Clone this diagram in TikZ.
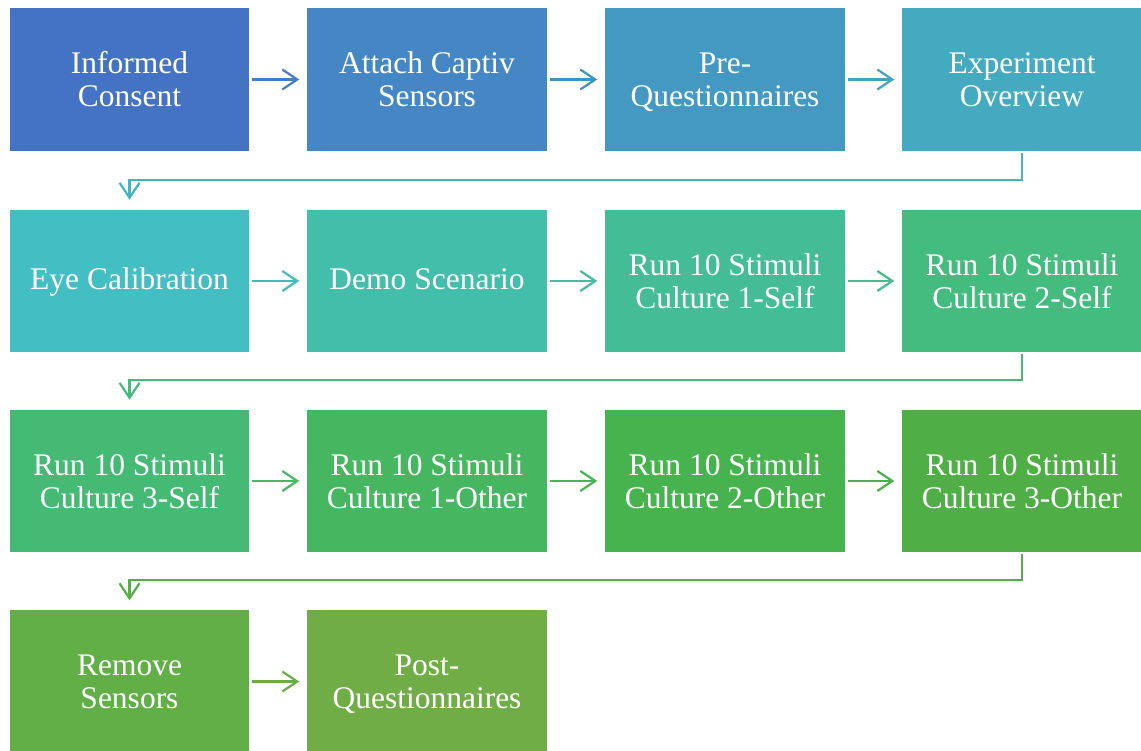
\documentclass[tikz,border=0pt]{standalone}
\usepackage{fontspec}
\setmainfont{Liberation Serif}
\usetikzlibrary{arrows.meta}
\definecolor{c1}{HTML}{4472C4}
\definecolor{c2}{HTML}{4487C4}
\definecolor{c3}{HTML}{4499C2}
\definecolor{c4}{HTML}{43AAC0}
\definecolor{c5}{HTML}{43BEC2}
\definecolor{c6}{HTML}{43BEAB}
\definecolor{c7}{HTML}{44BD96}
\definecolor{c8}{HTML}{44BC80}
\definecolor{c9}{HTML}{45BA75}
\definecolor{c10}{HTML}{46B760}
\definecolor{c11}{HTML}{46B34F}
\definecolor{c12}{HTML}{4FAF46}
\definecolor{c13}{HTML}{62AE47}
\definecolor{c14}{HTML}{70AD47}
\tikzset{
  stepbox/.style={fill=#1, draw=none, minimum width=239.5pt, minimum height=142.5pt,
    inner sep=0pt, outer sep=0pt, text=white, align=center,
    font=\fontsize{31.5}{33}\selectfont,
    execute at end node=\rule[-0.6pt]{0pt}{0.6pt}},
  oneline/.style={text height=21.5pt, text depth=3.5pt},
  flow/.style={draw=#1, line width=2.2pt, -{Straight Barb[length=15pt,width=20pt]}},
  loop/.style={draw=#1, line width=2.2pt, -{Straight Barb[length=15pt,width=20pt]}}
}
\begin{document}
\begin{tikzpicture}[x=1pt,y=-1pt]
\useasboundingbox (0,0) rectangle (1141,751);
% row 1
\node[stepbox=c1] (b1) at (129.5,79.5) {Informed\\Consent};
\node[stepbox=c2] (b2) at (427,79.5) {Attach Captiv\\Sensors};
\node[stepbox=c3] (b3) at (725,79.5) {Pre-\\\smash{Questionnaires}};
\node[stepbox=c4] (b4) at (1022,79.5) {Experiment\\Overview};
% row 2
\node[stepbox=c5, oneline] (b5) at (129.5,281) {Eye Calibration};
\node[stepbox=c6, oneline] (b6) at (427,281) {Demo Scenario};
\node[stepbox=c7] (b7) at (725,281) {Run 10 Stimuli\\Culture 1-Self};
\node[stepbox=c8] (b8) at (1022,281) {Run 10 Stimuli\\Culture 2-Self};
% row 3
\node[stepbox=c9] (b9) at (129.5,481) {Run 10 Stimuli\\Culture 3-Self};
\node[stepbox=c10] (b10) at (427,481) {Run 10 Stimuli\\Culture 1-Other};
\node[stepbox=c11] (b11) at (725,481) {Run 10 Stimuli\\Culture 2-Other};
\node[stepbox=c12] (b12) at (1022,481) {Run 10 Stimuli\\Culture 3-Other};
% row 4
\node[stepbox=c13] (b13) at (129.5,681.5) {Remove\\Sensors};
\node[stepbox=c14] (b14) at (427,681.5) {Post-\\\smash{Questionnaires}};
% horizontal arrows
\draw[flow=c1!50!c2] ([xshift=3pt]b1.east) -- ([xshift=-8pt]b2.west);
\draw[flow=c2!50!c3] ([xshift=3pt]b2.east) -- ([xshift=-8pt]b3.west);
\draw[flow=c3!50!c4] ([xshift=3pt]b3.east) -- ([xshift=-8pt]b4.west);
\draw[flow=c5!50!c6] ([xshift=3pt]b5.east) -- ([xshift=-8pt]b6.west);
\draw[flow=c6!50!c7] ([xshift=3pt]b6.east) -- ([xshift=-8pt]b7.west);
\draw[flow=c7!50!c8] ([xshift=3pt]b7.east) -- ([xshift=-8pt]b8.west);
\draw[flow=c9!50!c10] ([xshift=3pt]b9.east) -- ([xshift=-8pt]b10.west);
\draw[flow=c10!50!c11] ([xshift=3pt]b10.east) -- ([xshift=-8pt]b11.west);
\draw[flow=c11!50!c12] ([xshift=3pt]b11.east) -- ([xshift=-8pt]b12.west);
\draw[flow=c13!50!c14] ([xshift=3pt]b13.east) -- ([xshift=-8pt]b14.west);
% row-to-row connectors
\draw[loop=c4!50!c5] ([yshift=-2pt]b4.south) |- ([yshift=30pt]b5.north) -- ([yshift=10pt]b5.north);
\draw[loop=c8!50!c9] ([yshift=-2pt]b8.south) |- ([yshift=30pt]b9.north) -- ([yshift=10pt]b9.north);
\draw[loop=c12!50!c13] ([yshift=-2pt]b12.south) |- ([yshift=30pt]b13.north) -- ([yshift=10pt]b13.north);
\end{tikzpicture}
\end{document}
